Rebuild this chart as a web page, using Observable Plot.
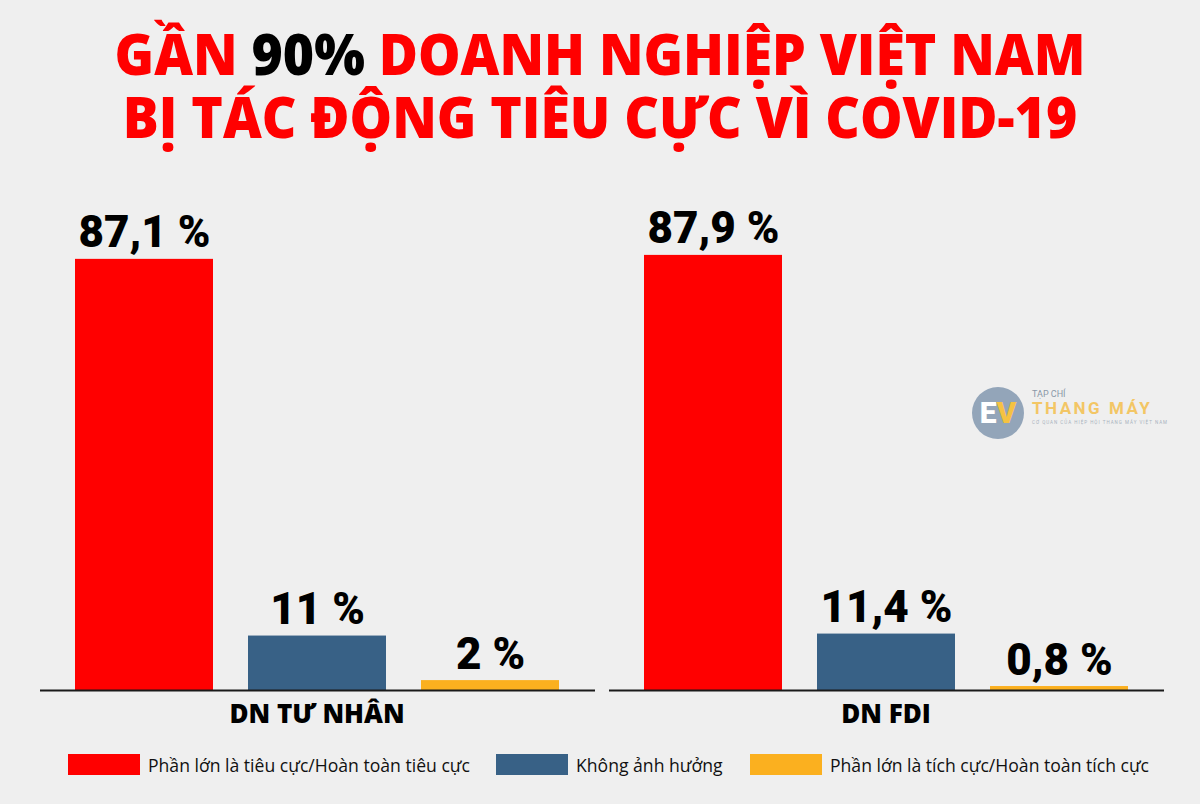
<!DOCTYPE html>
<html>
<head>
<meta charset="utf-8">
<script src="https://cdn.jsdelivr.net/npm/d3@7"></script>
<script src="https://cdn.jsdelivr.net/npm/@observablehq/plot@0.6"></script>
<style>
  html, body { margin: 0; padding: 0; background: #efefef; }
  #page { position: relative; width: 1200px; height: 804px; background: #efefef; overflow: hidden; font-family: Roboto, "Open Sans", sans-serif; }
  .tline { position: absolute; left: 0; width: 1200px; text-align: center; color: #ff0000; font-family: "Open Sans", Roboto, sans-serif; font-weight: 800; font-size: 56px; line-height: 60px; height: 60px; white-space: nowrap; transform: scaleX(0.955); transform-origin: 50% 50%; }
  .tline span { display: inline-block; height: 60px; line-height: 60px; overflow: visible; vertical-align: top; white-space: pre; }
  #t1 { top: 23px; }
  #t2 { top: 86px; }
  .black { color: #000; }
  #chart { position: absolute; left: 0; top: 170px; }
  #legend { position: absolute; left: 0; top: 754px; width: 1200px; height: 22px; }
  .item { position: absolute; top: 0; display: flex; align-items: center; height: 21px; }
  .sw { width: 72px; height: 21px; margin-right: 8px; }
  .lab { font-family: "Open Sans", Roboto, sans-serif; font-size: 17.6px; color: #111; white-space: nowrap; }
  #logo { position: absolute; left: 972px; top: 387px; width: 200px; height: 56px; }
  #logo .circ { position: absolute; left: 0; top: 0; width: 52px; height: 52px; border-radius: 50%; background: #93a5b9; color: #fff; font-family: Roboto, sans-serif; font-weight: 900; font-size: 30px; line-height: 52px; text-align: center; }
  #logo .circ span { color: #f5c242; }
  #logo .t1 { position: absolute; left: 60px; top: 2px; font-family: Roboto, sans-serif; font-size: 9px; color: #8a98a8; }
  #logo .t2 { position: absolute; left: 60px; top: 11px; font-family: Roboto, sans-serif; font-weight: 700; font-size: 17px; color: #f3c665; letter-spacing: 2.5px; }
  #logo .t3 { position: absolute; left: 60px; top: 33px; font-family: Roboto, sans-serif; font-size: 4.5px; color: #a8b2bd; letter-spacing: 1px; white-space: nowrap; }
</style>
</head>
<body>
<div id="page">
  <div class="tline" id="t1"><span>GẦN </span><span class="black">90%</span><span> DOANH NGHIỆP VIỆT NAM</span></div>
  <div class="tline" id="t2"><span>BỊ TÁC ĐỘNG TIÊU CỰC VÌ COVID-19</span></div>
  <div id="chart"></div>
  <div id="logo"><div class="circ">E<span>V</span></div><div class="t1">TẠP CHÍ</div><div class="t2">THANG MÁY</div><div class="t3">CƠ QUAN CỦA HIỆP HỘI THANG MÁY VIỆT NAM</div></div>
  <div id="legend"></div>
</div>
<script>
const groups = ["DN TƯ NHÂN", "DN FDI"];
const categories = [
  "Phần lớn là tiêu cực/Hoàn toàn tiêu cực",
  "Không ảnh hưởng",
  "Phần lớn là tích cực/Hoàn toàn tích cực"
];
const valuesTuNhan = [87.1, 11, 2];
const valuesFDI = [87.9, 11.4, 0.8];
const colors = ["#ff0000", "#386186", "#fbb01f"];

const seriesByGroup = [valuesTuNhan, valuesFDI];
const data = groups.flatMap((g, i) =>
  categories.map((c, j) => ({ group: g, category: c, value: seriesByGroup[i][j] }))
);
const fmt = v => String(v).replace(".", ",") + " %";

const chart = Plot.plot({
  width: 1200,
  height: 570,
  marginTop: 25,
  marginBottom: 50,
  marginLeft: 40,
  marginRight: 35,
  style: { background: "transparent", fontFamily: "Roboto, sans-serif", overflow: "visible" },
  fx: { domain: groups, padding: 0.0246, label: null, axis: null },
  x: { domain: categories, padding: 0.2, axis: null },
  y: { domain: [0, 100], axis: null },
  color: { domain: categories, range: colors },
  marks: [
    Plot.barY(data, { fx: "group", x: "category", y: "value", fill: "category" }),
    Plot.ruleY([0], { stroke: "#1a1a1a", strokeWidth: 2 }),
    Plot.text(data, {
      fx: "group", x: "category", y: "value",
      text: d => fmt(d.value),
      dy: -12, lineAnchor: "bottom",
      fontSize: 44, fontWeight: 900, fill: "#000"
    }),
    Plot.axisFx({
      anchor: "bottom", tickSize: 0, tickPadding: 14, label: null,
      fontSize: 26, fontWeight: 800, fontFamily: "Open Sans, Roboto, sans-serif",
      fill: "#000", dx: -1
    })
  ]
});
document.getElementById("chart").appendChild(chart);

const legend = document.getElementById("legend");
const lefts = [68, 496, 750];
categories.forEach((c, i) => {
  const it = document.createElement("div");
  it.className = "item";
  it.style.left = lefts[i] + "px";
  const sw = document.createElement("div");
  sw.className = "sw";
  sw.style.background = colors[i];
  const lab = document.createElement("div");
  lab.className = "lab";
  lab.textContent = c;
  it.appendChild(sw);
  it.appendChild(lab);
  legend.appendChild(it);
});
</script>
</body>
</html>
